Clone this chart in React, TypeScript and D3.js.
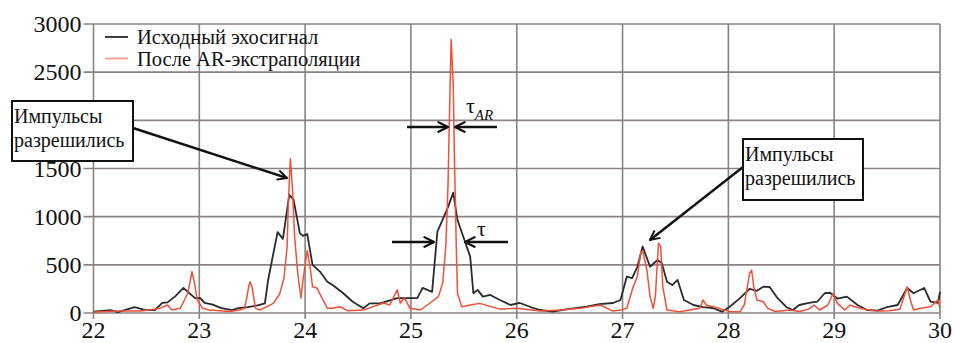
import React from "react";
import { useRef, useEffect } from "react";
import * as d3 from "d3";

// x положение (условные единицы), амплитуда
const echoX = [22.0, 22.16, 22.23, 22.39, 22.49, 22.58, 22.65, 22.7, 22.77, 22.85, 22.89, 22.96, 23.01, 23.05, 23.12, 23.21, 23.31, 23.37, 23.46, 23.55, 23.62, 23.65, 23.7, 23.74, 23.79, 23.85, 23.89, 23.95, 23.98, 24.02, 24.07, 24.14, 24.21, 24.26, 24.36, 24.45, 24.55, 24.61, 24.71, 24.87, 25.06, 25.11, 25.2, 25.25, 25.34, 25.4, 25.44, 25.56, 25.59, 25.63, 25.68, 25.75, 25.84, 25.94, 26.03, 26.13, 26.22, 26.34, 26.5, 26.66, 26.78, 26.91, 26.98, 27.04, 27.09, 27.14, 27.19, 27.26, 27.33, 27.37, 27.42, 27.47, 27.52, 27.58, 27.67, 27.76, 27.85, 27.94, 28.01, 28.11, 28.2, 28.27, 28.33, 28.39, 28.46, 28.55, 28.61, 28.67, 28.76, 28.84, 28.91, 28.96, 29.03, 29.12, 29.22, 29.31, 29.41, 29.5, 29.6, 29.69, 29.75, 29.85, 29.91, 29.98, 30.0];
const echoY = [15, 30, 10, 60, 30, 30, 105, 110, 170, 260, 220, 155, 155, 105, 90, 50, 30, 50, 60, 80, 100, 340, 620, 840, 770, 1225, 1180, 830, 800, 820, 500, 430, 325, 290, 205, 117, 50, 100, 100, 155, 155, 260, 220, 845, 1070, 1250, 965, 585, 205, 240, 170, 187, 135, 83, 104, 62, 31, 14, 42, 65, 93, 104, 135, 377, 363, 480, 690, 480, 550, 520, 325, 290, 343, 135, 83, 62, 52, 14, 62, 155, 250, 230, 273, 270, 160, 60, 31, 83, 104, 117, 205, 210, 150, 170, 83, 31, 24, 62, 83, 260, 205, 260, 117, 104, 220];

const arX = [22.0, 22.25, 22.44, 22.53, 22.63, 22.7, 22.74, 22.82, 22.86, 22.89, 22.91, 22.93, 22.95, 22.98, 23.03, 23.1, 23.29, 23.38, 23.43, 23.45, 23.47, 23.48, 23.5, 23.53, 23.57, 23.7, 23.76, 23.8, 23.83, 23.84, 23.86, 23.88, 23.9, 23.93, 23.96, 23.98, 24.02, 24.05, 24.07, 24.11, 24.16, 24.21, 24.26, 24.33, 24.4, 24.55, 24.74, 24.8, 24.87, 24.9, 24.94, 24.99, 25.09, 25.18, 25.26, 25.3, 25.33, 25.35, 25.37, 25.38, 25.4, 25.41, 25.43, 25.44, 25.48, 25.56, 25.65, 25.84, 26.0, 26.22, 26.41, 26.6, 26.79, 26.91, 26.98, 27.04, 27.1, 27.14, 27.17, 27.19, 27.23, 27.26, 27.29, 27.31, 27.33, 27.34, 27.36, 27.38, 27.42, 27.54, 27.73, 27.76, 27.79, 27.91, 28.01, 28.11, 28.15, 28.2, 28.22, 28.24, 28.27, 28.33, 28.37, 28.44, 28.58, 28.67, 28.76, 28.81, 28.86, 28.94, 28.99, 29.03, 29.1, 29.15, 29.24, 29.33, 29.43, 29.52, 29.62, 29.65, 29.69, 29.72, 29.75, 29.82, 29.91, 29.98, 30.0];
const arY = [10, 20, 20, 30, 50, 83, 31, 50, 135, 205, 310, 430, 340, 135, 50, 30, 15, 30, 50, 170, 290, 325, 260, 50, 30, 100, 200, 360, 690, 1100, 1600, 1300, 800, 415, 155, 343, 650, 450, 273, 260, 155, 50, 50, 65, 24, 30, 104, 83, 240, 104, 155, 50, 31, 104, 170, 310, 700, 1310, 2350, 2840, 2350, 1660, 620, 205, 65, 83, 100, 40, 50, 20, 30, 50, 83, 20, 30, 50, 273, 377, 620, 650, 446, 170, 50, 170, 550, 725, 690, 273, 31, 14, 50, 135, 83, 50, 14, 14, 83, 410, 446, 273, 135, 117, 50, 15, 31, 15, 40, 83, 31, 83, 205, 100, 31, 83, 50, 31, 20, 24, 40, 135, 273, 135, 31, 50, 65, 135, 50];

const xTicks = [22, 23, 24, 25, 26, 27, 28, 29, 30];
const yTicks = [0, 500, 1000, 1500, 2000, 2500, 3000];
// подпись 2000 закрыта выноской
const yTickLabels = [0, 500, 1000, 1500, 2500, 3000];
const legendLabels = ["Исходный эхосигнал", "После AR-экстраполяции"];
const noteText = ["Импульсы", "разрешились"];

export default function App() {
  const svgRef = useRef(null);

  useEffect(() => {
    const width = 954;
    const height = 343;
    const x = d3.scaleLinear().domain([22, 30]).range([93.5, 940]);
    const y = d3.scaleLinear().domain([0, 3000]).range([313, 24]);
    const serif = "'Liberation Serif', 'Times New Roman', serif";
    const gridColor = "#8a8282";

    const svg = d3.select(svgRef.current);
    svg.selectAll("*").remove();
    svg.attr("width", width).attr("height", height).style("font-family", serif);

    const defs = svg.append("defs");
    defs
      .append("marker")
      .attr("id", "arr")
      .attr("viewBox", "0 0 10 10")
      .attr("refX", 9)
      .attr("refY", 5)
      .attr("markerWidth", 5)
      .attr("markerHeight", 5)
      .attr("orient", "auto")
      .append("path")
      .attr("d", "M1,1 L9,5 L1,9")
      .attr("fill", "none")
      .attr("stroke", "#111")
      .attr("stroke-width", 1.6);

    svg.append("rect").attr("width", width).attr("height", height).attr("fill", "#fff");

    // сетка
    svg
      .append("g")
      .selectAll("line")
      .data(yTicks)
      .enter()
      .append("line")
      .attr("x1", x(22) - 10)
      .attr("x2", x(30))
      .attr("y1", (d) => y(d))
      .attr("y2", (d) => y(d))
      .attr("stroke", gridColor)
      .attr("stroke-width", 1.6);
    svg
      .append("g")
      .selectAll("line")
      .data(xTicks)
      .enter()
      .append("line")
      .attr("x1", (d) => x(d))
      .attr("x2", (d) => x(d))
      .attr("y1", y(3000))
      .attr("y2", y(0) + 6)
      .attr("stroke", gridColor)
      .attr("stroke-width", 1.6);

    svg
      .append("g")
      .selectAll("text")
      .data(yTickLabels)
      .enter()
      .append("text")
      .attr("x", x(22) - 12)
      .attr("y", (d) => y(d) + 8)
      .attr("text-anchor", "end")
      .style("font-size", "24px")
      .attr("fill", "#111")
      .text((d) => d);
    svg
      .append("g")
      .selectAll("text")
      .data(xTicks)
      .enter()
      .append("text")
      .attr("x", (d) => x(d))
      .attr("y", 338)
      .attr("text-anchor", "middle")
      .style("font-size", "24px")
      .attr("fill", "#111")
      .text((d) => d);

    const line = d3
      .line()
      .x((d) => x(d[0]))
      .y((d) => y(d[1]));

    svg
      .append("path")
      .attr("d", line(echoX.map((v, i) => [v, echoY[i]])))
      .attr("fill", "none")
      .attr("stroke", "#2a2a2a")
      .attr("stroke-width", 1.8)
      .attr("stroke-linejoin", "round");
    svg
      .append("path")
      .attr("d", line(arX.map((v, i) => [v, arY[i]])))
      .attr("fill", "none")
      .attr("stroke", "#f0503a")
      .attr("stroke-width", 1.5)
      .attr("stroke-linejoin", "round");

    // легенда
    const legend = svg.append("g");
    const legendColors = ["#2a2a2a", "#f39a88"];
    legendLabels.forEach((label, i) => {
      const ly = 37 + i * 21.5;
      legend
        .append("line")
        .attr("x1", 105)
        .attr("x2", 128)
        .attr("y1", ly)
        .attr("y2", ly)
        .attr("stroke", legendColors[i])
        .attr("stroke-width", 1.8);
      legend
        .append("text")
        .attr("x", 137)
        .attr("y", ly + 7)
        .style("font-size", "20.5px")
        .attr("fill", "#111")
        .text(label);
    });

    // выноски
    const notes = [
      { bx: 12, by: 101, bw: 121, bh: 60, from: [133, 128], to: [287, 178] },
      { bx: 743, by: 139, bw: 120, bh: 61, from: [743, 167], to: [650, 240] },
    ];
    notes.forEach((n) => {
      svg
        .append("line")
        .attr("x1", n.from[0])
        .attr("y1", n.from[1])
        .attr("x2", n.to[0])
        .attr("y2", n.to[1])
        .attr("stroke", "#111")
        .attr("stroke-width", 2.4)
        .attr("marker-end", "url(#arr)");
      svg
        .append("rect")
        .attr("x", n.bx)
        .attr("y", n.by)
        .attr("width", n.bw)
        .attr("height", n.bh)
        .attr("fill", "#fff")
        .attr("stroke", "#111")
        .attr("stroke-width", 2);
      noteText.forEach((t, i) => {
        svg
          .append("text")
          .attr("x", n.bx + 2)
          .attr("y", n.by + 22 + i * 24)
          .style("font-size", "20px")
          .attr("fill", "#111")
          .text(t);
      });
    });

    // стрелки ширины импульса
    const widthArrows = [
      [407, 448, 127],
      [497, 455, 127],
      [392, 434, 242],
      [508, 465, 242],
    ];
    widthArrows.forEach((a) => {
      svg
        .append("line")
        .attr("x1", a[0])
        .attr("x2", a[1])
        .attr("y1", a[2])
        .attr("y2", a[2])
        .attr("stroke", "#111")
        .attr("stroke-width", 2.6)
        .attr("marker-end", "url(#arr)");
    });

    const tauAR = svg
      .append("text")
      .attr("x", 466)
      .attr("y", 113)
      .style("font-size", "22px")
      .attr("fill", "#111");
    tauAR.append("tspan").text("τ");
    tauAR
      .append("tspan")
      .attr("dy", 7)
      .style("font-size", "15px")
      .style("font-style", "italic")
      .text("AR");
    svg
      .append("text")
      .attr("x", 477)
      .attr("y", 236)
      .style("font-size", "22px")
      .attr("fill", "#111")
      .text("τ");
  }, []);

  return <svg ref={svgRef} style={{ position: "absolute", left: 0, top: 0 }} />;
}
